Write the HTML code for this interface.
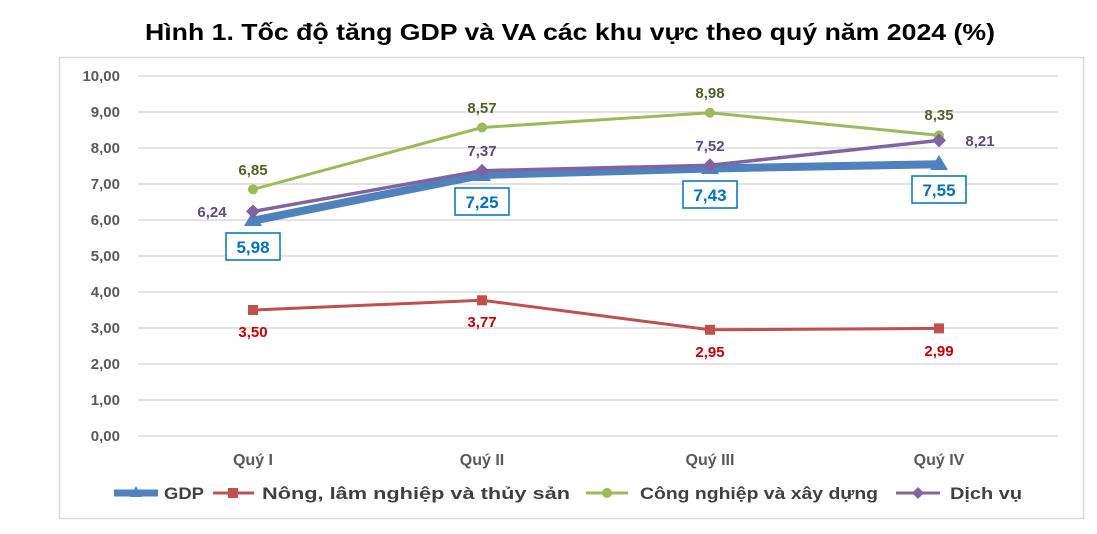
<!DOCTYPE html>
<html><head><meta charset="utf-8"><style>
body{margin:0;background:#fff;}
svg text{font-family:"Liberation Sans","DejaVu Sans",sans-serif;}
</style></head><body>
<svg width="1097" height="529" viewBox="0 0 1097 529" xmlns="http://www.w3.org/2000/svg">
<rect width="1097" height="529" fill="#fff"/>
<text x="145" y="40" font-size="23" font-weight="bold" fill="#000" textLength="850" lengthAdjust="spacingAndGlyphs">Hình 1. Tốc độ tăng GDP và VA các khu vực theo quý năm 2024 (%)</text>
<rect x="59.5" y="57.5" width="1024" height="461" fill="none" stroke="#d9d9d9" stroke-width="1.5"/>
<g stroke="#d9d9d9" stroke-width="1.5">
<line x1="138" x2="1058" y1="76" y2="76"/><line x1="138" x2="1058" y1="112" y2="112"/>
<line x1="138" x2="1058" y1="148" y2="148"/><line x1="138" x2="1058" y1="184" y2="184"/>
<line x1="138" x2="1058" y1="220" y2="220"/><line x1="138" x2="1058" y1="256" y2="256"/>
<line x1="138" x2="1058" y1="292" y2="292"/><line x1="138" x2="1058" y1="328" y2="328"/>
<line x1="138" x2="1058" y1="364" y2="364"/><line x1="138" x2="1058" y1="400" y2="400"/>
<line x1="138" x2="1058" y1="436" y2="436"/>
</g>
<g font-size="15" font-weight="bold" fill="#595959" text-anchor="end">
<text x="120" y="81">10,00</text><text x="120" y="117">9,00</text><text x="120" y="153">8,00</text>
<text x="120" y="189">7,00</text><text x="120" y="225">6,00</text><text x="120" y="261">5,00</text>
<text x="120" y="297">4,00</text><text x="120" y="333">3,00</text><text x="120" y="369">2,00</text>
<text x="120" y="405">1,00</text><text x="120" y="441">0,00</text>
</g>
<g font-size="16" font-weight="bold" fill="#595959" text-anchor="middle">
<text x="253" y="465">Quý I</text><text x="482" y="465">Quý II</text><text x="710" y="465">Quý III</text><text x="939" y="465">Quý IV</text>
</g>
<polyline points="253,310 482,300.3 710,329.8 939,328.4" fill="none" stroke="#c0504d" stroke-width="3"/>
<g fill="#c0504d"><rect x="248" y="305" width="10" height="10"/><rect x="477" y="295.3" width="10" height="10"/><rect x="705" y="324.8" width="10" height="10"/><rect x="934" y="323.4" width="10" height="10"/></g>
<polyline points="253,189.4 482,127.5 710,112.7 939,135.4" fill="none" stroke="#9bbb59" stroke-width="3"/>
<g fill="#9bbb59"><circle cx="253" cy="189.4" r="5"/><circle cx="482" cy="127.5" r="5"/><circle cx="710" cy="112.7" r="5"/><circle cx="939" cy="135.4" r="5"/></g>
<polyline points="253,220.7 482,175 710,168.5 939,164.2" fill="none" stroke="#4f81bd" stroke-width="8"/>
<g fill="#4f81bd"><polygon points="253,211 244,226 262,226"/><polygon points="482,166 473,181 491,181"/><polygon points="710,159 701,174 719,174"/><polygon points="939,155 930,170 948,170"/></g>
<polyline points="253,211.4 482,170.7 710,165.3 939,140.4" fill="none" stroke="#8064a2" stroke-width="3.5"/>
<g fill="#8064a2"><polygon points="253,204.4 260,211.4 253,218.4 246,211.4"/><polygon points="482,163.7 489,170.7 482,177.7 475,170.7"/><polygon points="710,158.3 717,165.3 710,172.3 703,165.3"/><polygon points="939,133.4 946,140.4 939,147.4 932,140.4"/></g>
<g font-size="15" font-weight="bold" text-anchor="middle">
<g fill="#4f6228"><text x="253" y="175">6,85</text><text x="482" y="113">8,57</text><text x="710" y="98">8,98</text><text x="939" y="120">8,35</text></g>
<g fill="#5f497a"><text x="212" y="217">6,24</text><text x="482" y="156">7,37</text><text x="710" y="151">7,52</text><text x="980" y="146">8,21</text></g>
<g fill="#c00000"><text x="253" y="337">3,50</text><text x="482" y="327">3,77</text><text x="710" y="357">2,95</text><text x="939" y="356">2,99</text></g>
</g>
<g font-size="17" font-weight="bold" fill="#0070c0" text-anchor="middle">
<rect x="226" y="233" width="54" height="27" fill="#fff" stroke="#0070c0" stroke-width="1.5"/><text x="253" y="253">5,98</text>
<rect x="455" y="188" width="54" height="27" fill="#fff" stroke="#0070c0" stroke-width="1.5"/><text x="482" y="208">7,25</text>
<rect x="683" y="181" width="54" height="27" fill="#fff" stroke="#0070c0" stroke-width="1.5"/><text x="710" y="201">7,43</text>
<rect x="912" y="176" width="54" height="27" fill="#fff" stroke="#0070c0" stroke-width="1.5"/><text x="939" y="196">7,55</text>
</g>
<g font-size="17" font-weight="bold" fill="#404040">
<line x1="114" x2="158" y1="493" y2="493" stroke="#4f81bd" stroke-width="7"/><polygon points="136,486 130,497 142,497" fill="#4f81bd"/>
<text x="164" y="499" textLength="40" lengthAdjust="spacingAndGlyphs">GDP</text>
<line x1="213" x2="254" y1="493" y2="493" stroke="#c0504d" stroke-width="3"/><rect x="228" y="488" width="10" height="10" fill="#c0504d"/>
<text x="262" y="499" textLength="308" lengthAdjust="spacingAndGlyphs">Nông, lâm nghiệp và thủy sản</text>
<line x1="586" x2="628" y1="493" y2="493" stroke="#9bbb59" stroke-width="3"/><circle cx="607" cy="493" r="5" fill="#9bbb59"/>
<text x="640" y="499" textLength="238" lengthAdjust="spacingAndGlyphs">Công nghiệp và xây dựng</text>
<line x1="896" x2="940" y1="493" y2="493" stroke="#8064a2" stroke-width="3"/><polygon points="918,487 924,493 918,499 912,493" fill="#8064a2"/>
<text x="950" y="499" textLength="72" lengthAdjust="spacingAndGlyphs">Dịch vụ</text>
</g>
</svg>
</body></html>
